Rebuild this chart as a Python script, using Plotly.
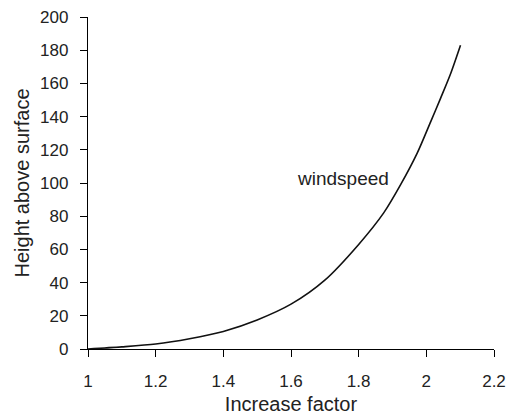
import plotly.graph_objects as go

increase_factor = [1.0, 1.1, 1.2, 1.3, 1.4, 1.5, 1.6, 1.7, 1.8, 1.874, 1.924, 1.973, 2.013, 2.042, 2.072, 2.101]
height = [0.0, 1.3, 3.0, 6.2, 10.6, 17.5, 27.0, 41.5, 63.0, 82.0, 99.0, 118.0, 137.0, 151.0, 166.0, 183.0]

x_ticks = [1, 1.2, 1.4, 1.6, 1.8, 2, 2.2]
x_tick_labels = ["1", "1.2", "1.4", "1.6", "1.8", "2", "2.2"]
y_ticks = [0, 20, 40, 60, 80, 100, 120, 140, 160, 180, 200]

txt = "#222222"
fig = go.Figure()
fig.add_trace(go.Scatter(
    x=increase_factor, y=height, mode="lines",
    line=dict(color="#111111", width=1.6, shape="spline", smoothing=0.8),
    showlegend=False, hoverinfo="skip"))

fig.add_annotation(x=1.753, y=102.6, text="windspeed", showarrow=False,
                   font=dict(size=19, color=txt))

axis_common = dict(showgrid=False, zeroline=False, showline=True, linecolor="black",
                   linewidth=1.3, ticks="outside", ticklen=7, tickcolor="black",
                   tickwidth=1.3, tickfont=dict(size=17, color=txt), automargin=False,
                   ticklabeloverflow="allow")

fig.update_xaxes(range=[1, 2.2], tickvals=x_ticks, ticktext=x_tick_labels,
                 ticklabelstandoff=9,
                 title=dict(text="Increase factor", font=dict(size=20, color=txt), standoff=7),
                 **axis_common)
fig.update_yaxes(range=[0, 200], tickvals=y_ticks, ticklabelstandoff=8,
                 title=dict(text="Height above surface", font=dict(size=20, color=txt), standoff=5),
                 **axis_common)

fig.update_layout(width=506, height=415, margin=dict(l=88, r=12, t=17, b=66),
                  plot_bgcolor="white", paper_bgcolor="white",
                  font=dict(family="Liberation Sans, Arial, sans-serif"))

# remove the browser's default 8px page margin so the figure fills the window
fig.write_html("out.html", config={"displayModeBar": False},
               post_script="document.body.style.margin='0';document.body.style.overflow='hidden';")
